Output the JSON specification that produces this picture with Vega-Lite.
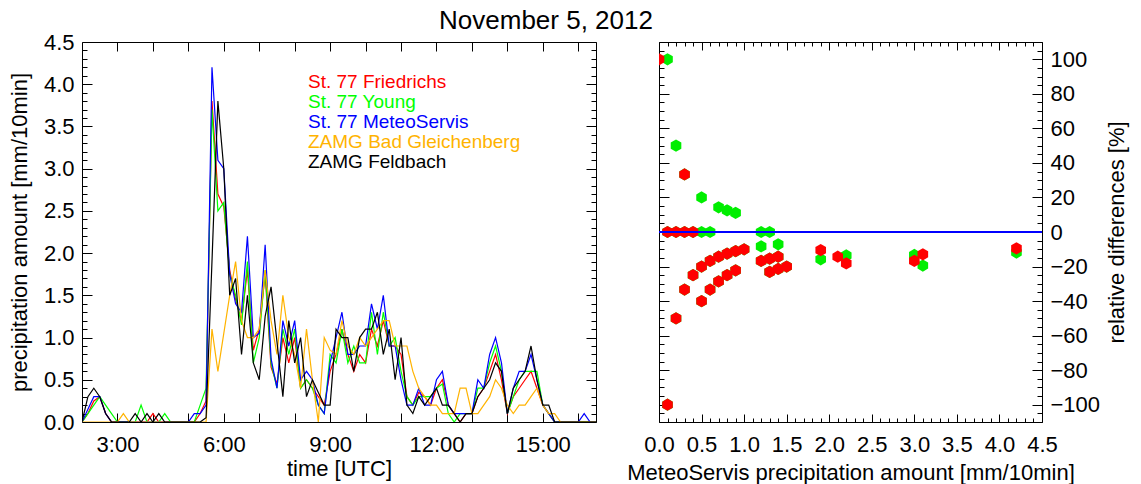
{
  "$schema": "https://vega.github.io/schema/vega-lite/v6.json",
  "title": {"text": "November 5, 2012", "fontSize": 26, "font": "Liberation Sans", "fontWeight": "normal", "color": "black", "anchor": "middle", "offset": -3, "dx": -22},
  "padding": {"left": 7, "top": 7, "right": 5, "bottom": 2},
  "autosize": {"type": "pad"},
  "bounds": "flush",
  "spacing": 63,
  "config": {
    "font": "Liberation Sans",
    "view": {"stroke": "black", "strokeWidth": 1},
    "axis": {"grid": false, "domain": false, "tickColor": "black", "tickWidth": 1, "labelFont": "Liberation Sans", "labelFontSize": 22, "labelColor": "black", "titleFont": "Liberation Sans", "titleFontSize": 22, "titleFontWeight": "normal", "titleColor": "black", "labelOverlap": false, "labelFlush": false, "labelBound": false}
  },
  "datasets": {
    "ts": [
      {"t":"2012-11-05T02:00","F":0,"Y":0,"M":0,"G":0,"B":0},
      {"t":"2012-11-05T02:10","F":0.1,"Y":0.1,"M":0.15,"G":0,"B":0.3},
      {"t":"2012-11-05T02:20","F":0.25,"Y":0.2,"M":0.3,"G":0,"B":0.4},
      {"t":"2012-11-05T02:30","F":0.3,"Y":0.3,"M":0.3,"G":0,"B":0.3},
      {"t":"2012-11-05T02:40","F":0.1,"Y":0.2,"M":0.1,"G":0,"B":0.1},
      {"t":"2012-11-05T02:50","F":0,"Y":0.1,"M":0,"G":0,"B":0},
      {"t":"2012-11-05T03:00","F":0,"Y":0,"M":0,"G":0,"B":0},
      {"t":"2012-11-05T03:10","F":0,"Y":0,"M":0,"G":0.1,"B":0},
      {"t":"2012-11-05T03:20","F":0,"Y":0,"M":0,"G":0,"B":0},
      {"t":"2012-11-05T03:30","F":0,"Y":0,"M":0,"G":0,"B":0.1},
      {"t":"2012-11-05T03:40","F":0,"Y":0.2,"M":0,"G":0,"B":0},
      {"t":"2012-11-05T03:50","F":0,"Y":0,"M":0,"G":0,"B":0.1},
      {"t":"2012-11-05T04:00","F":0.1,"Y":0,"M":0,"G":0,"B":0},
      {"t":"2012-11-05T04:10","F":0,"Y":0,"M":0,"G":0,"B":0.1},
      {"t":"2012-11-05T04:20","F":0,"Y":0.1,"M":0,"G":0,"B":0},
      {"t":"2012-11-05T04:30","F":0,"Y":0,"M":0,"G":0,"B":0},
      {"t":"2012-11-05T04:40","F":0,"Y":0,"M":0,"G":0,"B":0},
      {"t":"2012-11-05T04:50","F":0,"Y":0,"M":0,"G":0,"B":0},
      {"t":"2012-11-05T05:00","F":0,"Y":0,"M":0,"G":0,"B":0},
      {"t":"2012-11-05T05:10","F":0,"Y":0,"M":0.1,"G":0,"B":0},
      {"t":"2012-11-05T05:20","F":0.1,"Y":0.2,"M":0.1,"G":0,"B":0},
      {"t":"2012-11-05T05:30","F":0.25,"Y":0.4,"M":0.2,"G":0,"B":0.05},
      {"t":"2012-11-05T05:40","F":3.8,"Y":3.7,"M":4.2,"G":1.1,"B":1.9},
      {"t":"2012-11-05T05:50","F":2.7,"Y":2.5,"M":3.1,"G":0.6,"B":3.8},
      {"t":"2012-11-05T06:00","F":2.55,"Y":2.6,"M":3.0,"G":1.05,"B":3.0},
      {"t":"2012-11-05T06:10","F":1.8,"Y":1.75,"M":1.75,"G":1.5,"B":1.5},
      {"t":"2012-11-05T06:20","F":1.45,"Y":1.5,"M":1.4,"G":1.9,"B":1.7},
      {"t":"2012-11-05T06:30","F":1.2,"Y":1.15,"M":1.3,"G":1.2,"B":0.8},
      {"t":"2012-11-05T06:40","F":1.8,"Y":1.9,"M":2.2,"G":1.0,"B":1.5},
      {"t":"2012-11-05T06:50","F":0.85,"Y":0.7,"M":1.0,"G":1.0,"B":0.7},
      {"t":"2012-11-05T07:00","F":1.1,"Y":1.0,"M":1.05,"G":1.1,"B":0.5},
      {"t":"2012-11-05T07:10","F":1.75,"Y":1.8,"M":2.1,"G":1.8,"B":1.25},
      {"t":"2012-11-05T07:20","F":0.65,"Y":0.7,"M":0.75,"G":1.2,"B":1.6},
      {"t":"2012-11-05T07:30","F":0.45,"Y":0.4,"M":0.4,"G":0.8,"B":0.95},
      {"t":"2012-11-05T07:40","F":1.0,"Y":1.1,"M":1.2,"G":1.5,"B":0.3},
      {"t":"2012-11-05T07:50","F":0.7,"Y":0.8,"M":0.9,"G":1.0,"B":1.2},
      {"t":"2012-11-05T08:00","F":1.0,"Y":1.1,"M":1.2,"G":0.8,"B":0.7},
      {"t":"2012-11-05T08:10","F":0.4,"Y":0.4,"M":0.5,"G":0.4,"B":1.0},
      {"t":"2012-11-05T08:20","F":0.5,"Y":0.5,"M":0.6,"G":1.1,"B":0.3},
      {"t":"2012-11-05T08:30","F":0.4,"Y":0.4,"M":0.5,"G":0.5,"B":0.5},
      {"t":"2012-11-05T08:40","F":0.3,"Y":0.2,"M":0.2,"G":0,"B":0.35},
      {"t":"2012-11-05T08:50","F":0.2,"Y":0.1,"M":0.1,"G":1.0,"B":0.2},
      {"t":"2012-11-05T09:00","F":0.6,"Y":0.8,"M":0.7,"G":0.85,"B":0.2},
      {"t":"2012-11-05T09:10","F":0.8,"Y":0.7,"M":1.0,"G":0.8,"B":1.1},
      {"t":"2012-11-05T09:20","F":1.1,"Y":1.1,"M":1.3,"G":1.2,"B":1.0},
      {"t":"2012-11-05T09:30","F":0.8,"Y":0.7,"M":0.8,"G":0.9,"B":1.0},
      {"t":"2012-11-05T09:40","F":0.6,"Y":0.9,"M":0.8,"G":0.8,"B":0.6},
      {"t":"2012-11-05T09:50","F":0.8,"Y":0.7,"M":0.9,"G":1.0,"B":1.0},
      {"t":"2012-11-05T10:00","F":0.7,"Y":0.7,"M":0.9,"G":0.9,"B":1.1},
      {"t":"2012-11-05T10:10","F":1.1,"Y":1.3,"M":1.4,"G":1.0,"B":1.1},
      {"t":"2012-11-05T10:20","F":0.9,"Y":0.8,"M":1.1,"G":1.1,"B":1.3},
      {"t":"2012-11-05T10:30","F":1.2,"Y":1.3,"M":1.5,"G":1.2,"B":0.8},
      {"t":"2012-11-05T10:40","F":0.9,"Y":0.9,"M":0.9,"G":1.2,"B":1.1},
      {"t":"2012-11-05T10:50","F":0.9,"Y":1.0,"M":0.9,"G":0.9,"B":0.5},
      {"t":"2012-11-05T11:00","F":0.8,"Y":0.6,"M":0.5,"G":0.9,"B":1.0},
      {"t":"2012-11-05T11:10","F":0.3,"Y":0.3,"M":0.2,"G":0.9,"B":0.2},
      {"t":"2012-11-05T11:20","F":0.2,"Y":0.2,"M":0.2,"G":0.6,"B":0.1},
      {"t":"2012-11-05T11:30","F":0.35,"Y":0.3,"M":0.4,"G":0.4,"B":0.3},
      {"t":"2012-11-05T11:40","F":0.3,"Y":0.3,"M":0.2,"G":0.3,"B":0.2},
      {"t":"2012-11-05T11:50","F":0.2,"Y":0.3,"M":0.2,"G":0.2,"B":0.3},
      {"t":"2012-11-05T12:00","F":0.4,"Y":0.4,"M":0.5,"G":0.2,"B":0.4},
      {"t":"2012-11-05T12:10","F":0.5,"Y":0.45,"M":0.6,"G":0.1,"B":0.2},
      {"t":"2012-11-05T12:20","F":0.2,"Y":0.1,"M":0.2,"G":0.1,"B":0.2},
      {"t":"2012-11-05T12:30","F":0.1,"Y":0,"M":0.1,"G":0.1,"B":0.1},
      {"t":"2012-11-05T12:40","F":0,"Y":0.1,"M":0.1,"G":0.4,"B":0},
      {"t":"2012-11-05T12:50","F":0.1,"Y":0.1,"M":0.1,"G":0.4,"B":0.1},
      {"t":"2012-11-05T13:00","F":0.1,"Y":0.1,"M":0.1,"G":0.1,"B":0.1},
      {"t":"2012-11-05T13:10","F":0.3,"Y":0.4,"M":0.5,"G":0.1,"B":0.3},
      {"t":"2012-11-05T13:20","F":0.4,"Y":0.4,"M":0.4,"G":0.2,"B":0.4},
      {"t":"2012-11-05T13:30","F":0.6,"Y":0.7,"M":0.8,"G":0.3,"B":0.5},
      {"t":"2012-11-05T13:40","F":0.8,"Y":0.9,"M":1.0,"G":0.5,"B":0.7},
      {"t":"2012-11-05T13:50","F":0.5,"Y":0.6,"M":0.7,"G":0.4,"B":0.6},
      {"t":"2012-11-05T14:00","F":0.1,"Y":0.1,"M":0.1,"G":0.2,"B":0.1},
      {"t":"2012-11-05T14:10","F":0.3,"Y":0.3,"M":0.4,"G":0.1,"B":0.4},
      {"t":"2012-11-05T14:20","F":0.4,"Y":0.5,"M":0.6,"G":0.2,"B":0.5},
      {"t":"2012-11-05T14:30","F":0.5,"Y":0.6,"M":0.6,"G":0.2,"B":0.6},
      {"t":"2012-11-05T14:40","F":0.6,"Y":0.6,"M":0.8,"G":0.3,"B":0.9},
      {"t":"2012-11-05T14:50","F":0.4,"Y":0.6,"M":0.5,"G":0.4,"B":0.5},
      {"t":"2012-11-05T15:00","F":0.2,"Y":0.2,"M":0.2,"G":0.2,"B":0.2},
      {"t":"2012-11-05T15:10","F":0.1,"Y":0.1,"M":0.1,"G":0.1,"B":0.2},
      {"t":"2012-11-05T15:20","F":0,"Y":0,"M":0,"G":0.1,"B":0},
      {"t":"2012-11-05T15:30","F":0,"Y":0,"M":0,"G":0,"B":0},
      {"t":"2012-11-05T15:40","F":0,"Y":0,"M":0,"G":0,"B":0},
      {"t":"2012-11-05T15:50","F":0,"Y":0,"M":0,"G":0,"B":0},
      {"t":"2012-11-05T16:00","F":0,"Y":0,"M":0,"G":0,"B":0},
      {"t":"2012-11-05T16:10","F":0,"Y":0,"M":0.1,"G":0,"B":0},
      {"t":"2012-11-05T16:20","F":0,"Y":0,"M":0,"G":0,"B":0},
      {"t":"2012-11-05T16:30","F":0,"Y":0,"M":0,"G":0,"B":0}
    ],
    "sc": [
      {"s":"Y","x":0.1,"d":100},{"s":"Y","x":0.2,"d":50},{"s":"Y","x":0.5,"d":20},{"s":"Y","x":0.7,"d":14.3},{"s":"Y","x":0.8,"d":12.5},{"s":"Y","x":0.9,"d":11.1},
      {"s":"Y","x":0.1,"d":0},{"s":"Y","x":0.2,"d":0},{"s":"Y","x":0.3,"d":0},{"s":"Y","x":0.4,"d":0},{"s":"Y","x":0.5,"d":0},{"s":"Y","x":0.6,"d":0},
      {"s":"Y","x":1.2,"d":0},{"s":"Y","x":1.3,"d":0},{"s":"Y","x":1.2,"d":-8.3},{"s":"Y","x":1.4,"d":-7.1},{"s":"Y","x":1.9,"d":-15.8},{"s":"Y","x":2.2,"d":-13.6},
      {"s":"Y","x":3.0,"d":-13.3},{"s":"Y","x":3.1,"d":-19.4},{"s":"Y","x":4.2,"d":-11.9},
      {"s":"Y","x":0.1,"d":-100},{"s":"Y","x":0.2,"d":-50},{"s":"Y","x":0.3,"d":-33.3},{"s":"Y","x":0.4,"d":-25},{"s":"Y","x":0.5,"d":-20},{"s":"Y","x":0.6,"d":-16.7},
      {"s":"Y","x":0.7,"d":-14.3},{"s":"Y","x":0.8,"d":-12.5},{"s":"Y","x":0.9,"d":-11.1},{"s":"Y","x":1.0,"d":-10},{"s":"Y","x":0.5,"d":-40},{"s":"Y","x":0.6,"d":-33.3},
      {"s":"Y","x":0.7,"d":-28.6},{"s":"Y","x":0.8,"d":-25},{"s":"Y","x":0.9,"d":-22.2},{"s":"Y","x":0.3,"d":33.3},{"s":"Y","x":1.3,"d":-23.1},{"s":"Y","x":1.4,"d":-21.4},
      {"s":"Y","x":1.5,"d":-20},{"s":"Y","x":1.2,"d":-16.7},{"s":"Y","x":1.3,"d":-15.4},{"s":"Y","x":1.4,"d":-14.3},
      {"s":"F","x":0.0,"d":100},{"s":"F","x":0.1,"d":0},{"s":"F","x":0.2,"d":0},{"s":"F","x":0.3,"d":0},{"s":"F","x":0.4,"d":0},{"s":"F","x":0.3,"d":33.3},
      {"s":"F","x":0.1,"d":-100},{"s":"F","x":0.2,"d":-50},{"s":"F","x":0.3,"d":-33.3},{"s":"F","x":0.4,"d":-25},{"s":"F","x":0.5,"d":-20},{"s":"F","x":0.6,"d":-16.7},
      {"s":"F","x":0.7,"d":-14.3},{"s":"F","x":0.8,"d":-12.5},{"s":"F","x":0.9,"d":-11.1},{"s":"F","x":1.0,"d":-10},{"s":"F","x":0.5,"d":-40},{"s":"F","x":0.6,"d":-33.3},
      {"s":"F","x":0.7,"d":-28.6},{"s":"F","x":0.8,"d":-25},{"s":"F","x":0.9,"d":-22.2},{"s":"F","x":1.2,"d":-16.7},{"s":"F","x":1.3,"d":-15.4},{"s":"F","x":1.4,"d":-14.3},
      {"s":"F","x":1.3,"d":-23.1},{"s":"F","x":1.4,"d":-21.4},{"s":"F","x":1.5,"d":-20},{"s":"F","x":1.9,"d":-10.5},{"s":"F","x":2.1,"d":-14.3},{"s":"F","x":2.2,"d":-18.2},
      {"s":"F","x":3.0,"d":-16.7},{"s":"F","x":3.1,"d":-12.9},{"s":"F","x":4.2,"d":-9.5}
    ]
  },
  "hconcat": [
    {
      "width": 514,
      "height": 380,
      "data": {"name": "ts"},
      "transform": [{"fold": ["F", "Y", "M", "G", "B"], "as": ["s", "v"]}],
      "layer": [
        {
          "mark": {"type": "line", "strokeWidth": 1.2, "clip": true},
          "encoding": {
            "x": {"field": "t", "type": "temporal",
              "scale": {"domain": [{"year": 2012, "month": 11, "date": 5, "hours": 2, "minutes": 0}, {"year": 2012, "month": 11, "date": 5, "hours": 16, "minutes": 30}]},
              "axis": {"orient": "bottom", "title": "time [UTC]",
                "values": [{"year":2012,"month":11,"date":5,"hours":3},{"year":2012,"month":11,"date":5,"hours":4},{"year":2012,"month":11,"date":5,"hours":5},{"year":2012,"month":11,"date":5,"hours":6},{"year":2012,"month":11,"date":5,"hours":7},{"year":2012,"month":11,"date":5,"hours":8},{"year":2012,"month":11,"date":5,"hours":9},{"year":2012,"month":11,"date":5,"hours":10},{"year":2012,"month":11,"date":5,"hours":11},{"year":2012,"month":11,"date":5,"hours":12},{"year":2012,"month":11,"date":5,"hours":13},{"year":2012,"month":11,"date":5,"hours":14},{"year":2012,"month":11,"date":5,"hours":15},{"year":2012,"month":11,"date":5,"hours":16}],
                "labelExpr": "hours(datum.value) % 3 == 0 ? timeFormat(datum.value, '%-H:%M') : ''",
                "tickSize": -9, "labelPadding": 21, "titlePadding": 3}},
            "y": {"field": "v", "type": "quantitative",
              "scale": {"domain": [0, 4.5], "nice": false},
              "axis": {"orient": "left", "title": "precipitation amount [mm/10min]",
                "values": [0,0.1,0.2,0.3,0.4,0.5,0.6,0.7,0.8,0.9,1,1.1,1.2,1.3,1.4,1.5,1.6,1.7,1.8,1.9,2,2.1,2.2,2.3,2.4,2.5,2.6,2.7,2.8,2.9,3,3.1,3.2,3.3,3.4,3.5,3.6,3.7,3.8,3.9,4,4.1,4.2,4.3,4.4,4.5],
                "tickSize": {"condition": {"test": "abs(datum.value*2 - round(datum.value*2)) < 0.01", "value": -10}, "value": -5},
                "labelExpr": "abs(datum.value*2 - round(datum.value*2)) < 0.01 ? format(datum.value, '.1f') : ''",
                "labelPadding": 18, "titlePadding": 12}},
            "color": {"field": "s", "type": "nominal",
              "scale": {"domain": ["F", "Y", "M", "G", "B"], "range": ["#ff0000", "#00ff00", "#0000ff", "#ffb300", "#000000"]},
              "legend": {"orient": "none", "legendX": 207, "legendY": 30, "title": null, "symbolSize": 0, "symbolStrokeWidth": 0, "symbolOpacity": 0, "labelOffset": 0, "labelFontSize": 19, "labelFont": "Liberation Sans", "rowPadding": 0, "padding": 0, "labelLimit": 400,
                "labelExpr": "datum.value == 'F' ? 'St. 77 Friedrichs' : datum.value == 'Y' ? 'St. 77 Young' : datum.value == 'M' ? 'St. 77 MeteoServis' : datum.value == 'G' ? 'ZAMG Bad Gleichenberg' : 'ZAMG Feldbach'",
                "labelColor": {"expr": "datum.value == 'F' ? '#ff0000' : datum.value == 'Y' ? '#00ff00' : datum.value == 'M' ? '#0000ff' : datum.value == 'G' ? '#ffb300' : '#000000'"}}}
          }
        },
        {
          "mark": {"type": "point", "opacity": 0},
          "encoding": {
            "x": {"field": "t", "type": "temporal",
              "axis": {"orient": "top", "labels": false, "title": null,
                "values": [{"year":2012,"month":11,"date":5,"hours":3},{"year":2012,"month":11,"date":5,"hours":4},{"year":2012,"month":11,"date":5,"hours":5},{"year":2012,"month":11,"date":5,"hours":6},{"year":2012,"month":11,"date":5,"hours":7},{"year":2012,"month":11,"date":5,"hours":8},{"year":2012,"month":11,"date":5,"hours":9},{"year":2012,"month":11,"date":5,"hours":10},{"year":2012,"month":11,"date":5,"hours":11},{"year":2012,"month":11,"date":5,"hours":12},{"year":2012,"month":11,"date":5,"hours":13},{"year":2012,"month":11,"date":5,"hours":14},{"year":2012,"month":11,"date":5,"hours":15},{"year":2012,"month":11,"date":5,"hours":16}],
                "tickSize": -9}},
            "y": {"field": "v", "type": "quantitative",
              "axis": {"orient": "right", "labels": false, "title": null,
                "values": [0,0.1,0.2,0.3,0.4,0.5,0.6,0.7,0.8,0.9,1,1.1,1.2,1.3,1.4,1.5,1.6,1.7,1.8,1.9,2,2.1,2.2,2.3,2.4,2.5,2.6,2.7,2.8,2.9,3,3.1,3.2,3.3,3.4,3.5,3.6,3.7,3.8,3.9,4,4.1,4.2,4.3,4.4,4.5],
                "tickSize": {"condition": {"test": "abs(datum.value*2 - round(datum.value*2)) < 0.01", "value": -10}, "value": -5}}}
          }
        }
      ],
      "resolve": {"axis": {"x": "independent", "y": "independent"}}
    },
    {
      "width": 383,
      "height": 380,
      "data": {"name": "sc"},
      "layer": [
        {
          "transform": [{"filter": "datum.s == 'Y'"}],
          "mark": {"type": "point", "shape": "M0,-1L0.866,-0.5L0.866,0.5L0,1L-0.866,0.5L-0.866,-0.5Z", "filled": true, "size": 150, "color": "#00ee00", "opacity": 1, "clip": true},
          "encoding": {
            "x": {"field": "x", "type": "quantitative",
              "scale": {"domain": [0, 4.5], "nice": false, "zero": false},
              "axis": {"orient": "bottom", "title": "MeteoServis precipitation amount [mm/10min]",
                "values": [0,0.1,0.2,0.3,0.4,0.5,0.6,0.7,0.8,0.9,1,1.1,1.2,1.3,1.4,1.5,1.6,1.7,1.8,1.9,2,2.1,2.2,2.3,2.4,2.5,2.6,2.7,2.8,2.9,3,3.1,3.2,3.3,3.4,3.5,3.6,3.7,3.8,3.9,4,4.1,4.2,4.3,4.4,4.5],
                "tickSize": {"condition": {"test": "abs(datum.value*2 - round(datum.value*2)) < 0.01", "value": -8}, "value": -4},
                "labelExpr": "abs(datum.value*2 - round(datum.value*2)) < 0.01 ? format(datum.value, '.1f') : ''",
                "labelPadding": 20, "titlePadding": 3}},
            "y": {"field": "d", "type": "quantitative",
              "scale": {"domain": [-110, 110], "nice": false},
              "axis": {"orient": "right", "title": "relative differences [%]", "titleAngle": 270, "titleBaseline": "top",
                "values": [-110,-105,-100,-95,-90,-85,-80,-75,-70,-65,-60,-55,-50,-45,-40,-35,-30,-25,-20,-15,-10,-5,0,5,10,15,20,25,30,35,40,45,50,55,60,65,70,75,80,85,90,95,100,105,110],
                "tickSize": {"condition": {"test": "datum.value % 20 == 0", "value": -10}, "value": -5},
                "labelExpr": "datum.value % 20 == 0 ? format(datum.value, 'd') : ''",
                "labelPadding": 18, "titlePadding": 7}}
          }
        },
        {
          "transform": [{"filter": "datum.s == 'F'"}],
          "mark": {"type": "point", "shape": "M0,-1L0.866,-0.5L0.866,0.5L0,1L-0.866,0.5L-0.866,-0.5Z", "filled": true, "size": 150, "color": "#ff0000", "opacity": 1, "clip": true},
          "encoding": {
            "x": {"field": "x", "type": "quantitative", "axis": null},
            "y": {"field": "d", "type": "quantitative", "axis": null}
          }
        },
        {
          "mark": {"type": "rule", "color": "#0000ff", "strokeWidth": 1.5},
          "encoding": {"y": {"datum": 0, "type": "quantitative", "axis": null}}
        },
        {
          "mark": {"type": "point", "opacity": 0},
          "encoding": {
            "x": {"field": "x", "type": "quantitative",
              "axis": {"orient": "top", "labels": false, "title": null,
                "values": [0,0.1,0.2,0.3,0.4,0.5,0.6,0.7,0.8,0.9,1,1.1,1.2,1.3,1.4,1.5,1.6,1.7,1.8,1.9,2,2.1,2.2,2.3,2.4,2.5,2.6,2.7,2.8,2.9,3,3.1,3.2,3.3,3.4,3.5,3.6,3.7,3.8,3.9,4,4.1,4.2,4.3,4.4,4.5],
                "tickSize": {"condition": {"test": "abs(datum.value*2 - round(datum.value*2)) < 0.01", "value": -8}, "value": -4}}},
            "y": {"field": "d", "type": "quantitative",
              "axis": {"orient": "left", "labels": false, "title": null,
                "values": [-110,-105,-100,-95,-90,-85,-80,-75,-70,-65,-60,-55,-50,-45,-40,-35,-30,-25,-20,-15,-10,-5,0,5,10,15,20,25,30,35,40,45,50,55,60,65,70,75,80,85,90,95,100,105,110],
                "tickSize": {"condition": {"test": "datum.value % 20 == 0", "value": -10}, "value": -5}}}
          }
        }
      ],
      "resolve": {"axis": {"x": "independent", "y": "independent"}}
    }
  ]
}
